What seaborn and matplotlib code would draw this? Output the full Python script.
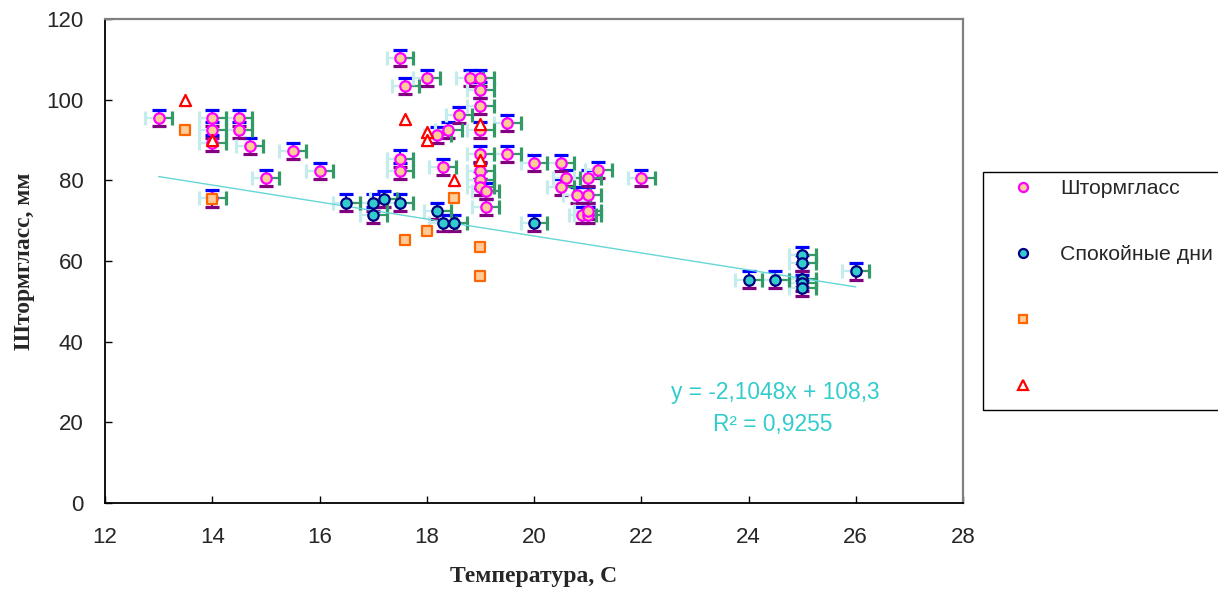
import numpy as np
import pandas as pd
import matplotlib
matplotlib.use("Agg")
import matplotlib.pyplot as plt
import seaborn as sns
from matplotlib.lines import Line2D
from matplotlib.patches import Rectangle

# Штормгласс: температура, C / высота, мм
storm_t = [13, 14, 14, 14, 14, 14.5, 14.5, 14.7, 15, 15.5, 16, 17.5, 17.6, 17.5, 17.5,
           18, 18.2, 18.3, 18.4, 18.6, 18.8, 19, 19, 19, 19, 19, 19, 19, 19, 19.1, 19.1,
           19.5, 19.5, 20, 20.5, 20.6, 20.5, 21, 21.2, 20.8, 21, 20.9, 21, 21, 22]
storm_h = [95.5, 95.5, 92.5, 89.3, 75.5, 95.5, 92.5, 88.5, 80.5, 87.3, 82.3, 110.3, 103.4, 85.4, 82.3,
           105.3, 91.3, 83.4, 92.5, 96.3, 105.3, 105.3, 102.4, 98.5, 92.5, 86.5, 82.3, 80.2, 78.4, 77.3, 73.4,
           94.3, 86.5, 84.4, 84.4, 80.5, 78.4, 80.5, 82.5, 76.4, 76.4, 71.4, 71.4, 72.4, 80.5]

# Спокойные дни
calm_t = [16.5, 17, 17, 17.2, 17.5, 18.2, 18.3, 18.5, 20, 24, 24.5, 25, 25, 25, 25, 25, 26]
calm_h = [74.5, 74.5, 71.4, 75.3, 74.5, 72.4, 69.5, 69.5, 69.4, 55.4, 55.4, 61.4, 59.4, 55.6, 54.5, 53.4, 57.4]

# третья серия (квадраты)
sq_t = [13.5, 14, 17.6, 18, 18.5, 19, 19]
sq_h = [92.5, 75.3, 65.3, 67.4, 75.5, 63.4, 56.4]

# четвёртая серия (треугольники)
tri_t = [13.5, 14, 17.6, 18, 18, 18.5, 19, 19]
tri_h = [100, 90, 95.2, 92, 90, 80, 85, 93.9]

# погрешности
err_h = 2.0
err_t = 0.25

# линейный тренд
slope = -2.1048
intercept = 108.3
r2 = 0.9255
trend_t = [13, 26]

sns.set_theme(style="white")
plt.rcParams['font.family'] = ['Liberation Sans', 'DejaVu Sans']

fig = plt.figure(figsize=(12.18, 5.89), dpi=100)
ax = fig.add_axes([105 / 1218, 1 - 503 / 589, 858 / 1218, 484 / 589])


def draw_errors(t, h):
    t = np.asarray(t)
    h = np.asarray(h)
    # вертикальные: вверх синие, вниз фиолетовые
    ax.vlines(t, h, h + err_h, color='#0000FF', lw=1.4, zorder=2)
    ax.vlines(t, h - err_h, h, color='#800080', lw=1.6, zorder=2)
    ax.plot(t, h + err_h, ls='none', marker='_', ms=10, mew=2.3, color='#0000FF', zorder=2)
    ax.plot(t, h - err_h, ls='none', marker='_', ms=10, mew=2.3, color='#800080', zorder=2)
    # горизонтальные: влево светлые, вправо зелёные
    ax.hlines(h, t - err_t, t, color='#C4ECEC', lw=1.6, zorder=2)
    ax.hlines(h, t, t + err_t, color='#339966', lw=1.6, zorder=2)
    ax.plot(t - err_t, h, ls='none', marker='|', ms=10, mew=2.3, color='#C4ECEC', zorder=2)
    ax.plot(t + err_t, h, ls='none', marker='|', ms=10, mew=2.3, color='#339966', zorder=2)


draw_errors(storm_t, storm_h)
draw_errors(calm_t, calm_h)

sns.scatterplot(x=storm_t, y=storm_h, ax=ax, marker='o', s=56, color='#FFCC99',
                edgecolor='#FF00FF', linewidth=1.6, zorder=3)
sns.scatterplot(x=calm_t, y=calm_h, ax=ax, marker='o', s=56, color='#33CCCC',
                edgecolor='#000080', linewidth=1.6, zorder=3)
sns.scatterplot(x=sq_t, y=sq_h, ax=ax, marker='s', s=50, color='#FFCC99',
                edgecolor='#FF6600', linewidth=1.6, zorder=4)
sns.scatterplot(x=tri_t, y=tri_h, ax=ax, marker='^', s=64, color='white',
                edgecolor='#FF0000', linewidth=1.6, zorder=4)

tt = np.array(trend_t)
ax.plot(tt, slope * tt + intercept, color='#66D6D6', lw=1.0, zorder=2.5)

eq = f"y = {slope:.4f}x + {intercept:.1f}".replace('.', ',')
ax.text(24.5, 27.3, eq, color='#33CCCC', fontsize=16.4, ha='center', va='center')
ax.text(24.45, 19.4, f"R² = {r2:.4f}".replace('.', ','), color='#33CCCC',
        fontsize=16.4, ha='center', va='center')

ax.set_xlim(12, 28)
ax.set_ylim(0, 120)
ax.set_xticks(range(12, 29, 2))
ax.set_yticks(range(0, 121, 20))
ax.tick_params(axis='x', direction='in', length=5, width=1, color='black', pad=17.5, labelsize=16)
ax.tick_params(axis='y', direction='in', length=5, width=1, color='black', pad=15.5, labelsize=16)
ax.tick_params(bottom=True, left=True)

for s in ['left', 'bottom']:
    ax.spines[s].set_color('black')
    ax.spines[s].set_linewidth(1.3)
for s in ['top', 'right']:
    ax.spines[s].set_color('#808080')
    ax.spines[s].set_linewidth(1.6)

ax.set_xlabel('Температура, С', family=['Liberation Serif'], fontweight='bold', fontsize=17)
ax.set_ylabel('Штормгласс, мм', family=['Liberation Serif'], fontweight='bold', fontsize=17)
ax.xaxis.set_label_coords(0.5, -0.131)
ax.yaxis.set_label_coords(-0.0815, 0.5)

handles = [
    Line2D([], [], ls='none', marker='o', ms=6.5, mfc='#FFCC99', mec='#FF00FF', mew=1.6),
    Line2D([], [], ls='none', marker='o', ms=6.5, mfc='#33CCCC', mec='#000080', mew=1.6),
    Line2D([], [], ls='none', marker='s', ms=6.3, mfc='#FFCC99', mec='#FF6600', mew=1.6),
    Line2D([], [], ls='none', marker='^', ms=7, mfc='white', mec='#FF0000', mew=1.6),
]
labels = ['Штормгласс', 'Спокойные дни', '', '']
fig.legend(handles, labels, loc='upper left', bbox_to_anchor=(1012.5 / 1218, 1 - 179 / 589),
           frameon=False, fontsize=15.3, handlelength=1, handletextpad=1.24,
           borderpad=0, borderaxespad=0, labelspacing=2.22)
fig.patches.append(Rectangle((983 / 1218, 1 - 410 / 589), 0.25, 238 / 589,
                             transform=fig.transFigure, fill=False, edgecolor='black',
                             lw=1.0, clip_on=False))

fig.savefig('out.png', dpi=100)
